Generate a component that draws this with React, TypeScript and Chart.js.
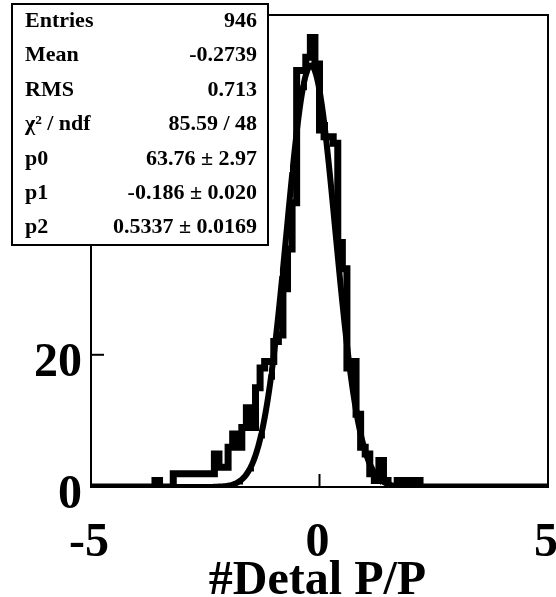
import { useEffect, useRef } from "react";
import { Chart, registerables } from "chart.js";

Chart.register(...registerables);

// Histogram: 100 bins from -5 to 5
const xMin = -5;
const xMax = 5;
const counts = [
  0, 0, 0, 0, 0, 0, 0, 0, 0, 0,
  0, 0, 0, 0, 1, 0, 0, 0, 2, 2,
  2, 2, 2, 2, 2, 2, 2, 5, 3, 3,
  6, 8, 6, 9, 12, 9, 15, 18, 19, 19,
  22, 23, 30, 36, 43, 63, 63, 65, 68, 64,
  54, 53, 53, 52, 37, 33, 18, 19, 11, 6,
  5, 2, 1, 4, 1, 0, 0, 1, 1, 1,
  1, 1, 0, 0, 0, 0, 0, 0, 0, 0,
  0, 0, 0, 0, 0, 0, 0, 0, 0, 0,
  0, 0, 0, 0, 0, 0, 0, 0, 0, 0,
];
const yMax = 71.4;
const xTicks = [-5, 0, 5];
const yTicks = [0, 20, 40, 60];
const xTitle = "#Detal P/P";

// Gaussian fit parameters (shown in the stats box)
const fitP0 = 63.76;
const fitP1 = -0.186;
const fitP2 = 0.5337;

const statLabels = ["Entries", "Mean", "RMS", "χ² / ndf", "p0", "p1", "p2"];
const statValues = [
  "946",
  "-0.2739",
  "0.713",
  "85.59 / 48",
  "63.76 ± 2.97",
  "-0.186 ± 0.020",
  "0.5337 ± 0.0169",
];

const FONT = '"Liberation Serif", "Times New Roman", serif';

export default function App() {
  const ref = useRef<HTMLCanvasElement | null>(null);

  useEffect(() => {
    document.body.style.margin = "0";
    const canvas = ref.current;
    if (!canvas) return;

    const nb = counts.length;
    const bw = (xMax - xMin) / nb;
    const histPts = counts.map((c, i) => ({ x: xMin + i * bw, y: c }));
    histPts.push({ x: xMax, y: counts[nb - 1] });

    const nFit = 500;
    const fitPts: { x: number; y: number }[] = [];
    for (let i = 0; i <= nFit; i++) {
      const x = xMin + ((xMax - xMin) * i) / nFit;
      const z = (x - fitP1) / fitP2;
      fitPts.push({ x, y: fitP0 * Math.exp(-0.5 * z * z) });
    }

    const decor = {
      id: "rootDecor",
      afterDraw(chart: any) {
        const ctx = chart.ctx as CanvasRenderingContext2D;
        const { left, right, top, bottom } = chart.chartArea;
        const xs = chart.scales.x;
        const ys = chart.scales.y;
        ctx.save();
        ctx.strokeStyle = "#000";
        ctx.fillStyle = "#000";
        // frame
        ctx.lineWidth = 2;
        ctx.strokeRect(left, top, right - left, bottom - top);
        // ticks
        ctx.lineWidth = 2;
        for (const t of yTicks) {
          const y = ys.getPixelForValue(t);
          ctx.beginPath();
          ctx.moveTo(left, y);
          ctx.lineTo(left + 13, y);
          ctx.stroke();
        }
        for (const t of xTicks) {
          const x = xs.getPixelForValue(t);
          ctx.beginPath();
          ctx.moveTo(x, bottom);
          ctx.lineTo(x, bottom - 13);
          ctx.stroke();
        }
        // tick labels
        ctx.font = `bold 48px ${FONT}`;
        ctx.textBaseline = "alphabetic";
        ctx.textAlign = "right";
        for (const t of yTicks) {
          const y = ys.getPixelForValue(t);
          ctx.fillText(String(t), left - 9, y + 21);
        }
        ctx.textAlign = "center";
        for (const t of xTicks) {
          const x = xs.getPixelForValue(t);
          ctx.fillText(String(t), x - 2, 556);
        }
        // axis title
        ctx.fillText(xTitle, (left + right) / 2 - 2, 594);

        // stats box
        const bx = 12, by = 4, bwid = 256, bh = 241;
        ctx.fillStyle = "#fff";
        ctx.fillRect(bx, by, bwid, bh);
        ctx.lineWidth = 2;
        ctx.strokeRect(bx, by, bwid, bh);
        ctx.fillStyle = "#000";
        ctx.font = `bold 22px ${FONT}`;
        ctx.textBaseline = "middle";
        const rowH = bh / statLabels.length;
        statLabels.forEach((lab, i) => {
          const cy = by + rowH * (i + 0.5);
          ctx.textAlign = "left";
          ctx.fillText(lab, bx + 13, cy);
          ctx.textAlign = "right";
          ctx.fillText(statValues[i], bx + bwid - 11, cy);
        });
        ctx.restore();
      },
    };

    const chart = new Chart(canvas, {
      type: "line",
      data: {
        datasets: [
          {
            data: histPts,
            stepped: "before",
            borderColor: "#000",
            borderWidth: 7,
            borderJoinStyle: "miter",
            pointRadius: 0,
            fill: false,
          },
          {
            data: fitPts,
            borderColor: "#000",
            borderWidth: 6,
            pointRadius: 0,
            tension: 0,
            fill: false,
          },
        ],
      },
      options: {
        animation: false,
        responsive: false,
        devicePixelRatio: 1,
        layout: { padding: { left: 91, right: 8, top: 15, bottom: 110 } },
        scales: {
          x: { type: "linear", min: xMin, max: xMax, display: false },
          y: { type: "linear", min: 0, max: yMax, display: false },
        },
        plugins: {
          legend: { display: false },
          tooltip: { enabled: false },
          title: { display: false },
        },
      },
      plugins: [decor],
    } as any);

    return () => chart.destroy();
  }, []);

  return <canvas ref={ref} width={556} height={597} style={{ display: "block" }} />;
}
